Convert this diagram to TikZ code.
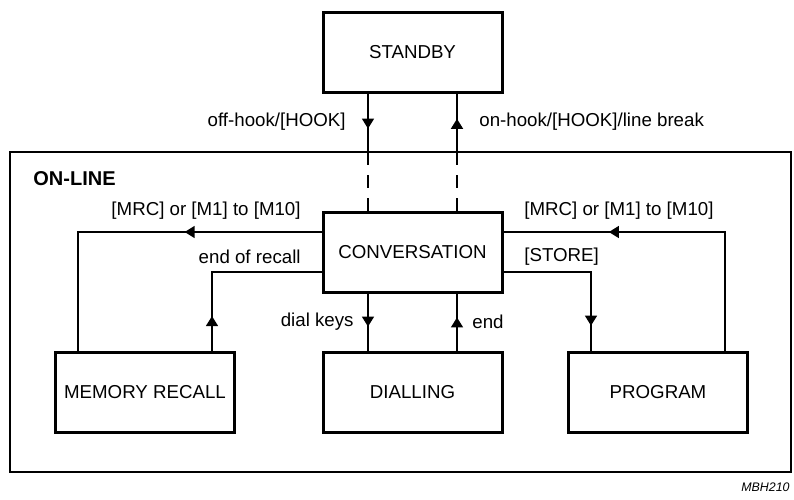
\documentclass[tikz,border=0pt]{standalone}
\usepackage{fontspec}
\setmainfont{Liberation Sans}
\usetikzlibrary{positioning,calc,arrows.meta,decorations.markings}
\tikzset{
	statebox/.style={draw, line width=1.5pt, minimum width=89.5pt, minimum height=40pt, inner sep=0pt},
	link/.style={line width=0.8pt},
	arrowat/.style={postaction={decorate, decoration={markings, mark=at position #1 with {\arrow{Triangle[width=6pt,length=5pt]}}}}},
	lbl/.style={inner sep=0pt}
}
\begin{document}
\begin{tikzpicture}[x=0.5pt, y=-0.5pt, font=\fontsize{9.35}{11}\selectfont]
		\useasboundingbox (0,0) rectangle (794,499);
		\draw[line width=1.3pt] (10,152) rectangle (791,472);
		\node[lbl, anchor=west, font=\fontsize{10}{12}\selectfont\bfseries] (online) at (33,179) {ON-LINE};
		\node[statebox] (sb) at (412.5,52) {STANDBY};
		\node[statebox] (conv) at (412.5,252) {CONVERSATION};
		\node[statebox] (mr) at (145,392) {MEMORY RECALL};
		\node[statebox] (dial) at (412.5,392) {DIALLING};
		\node[statebox] (prog) at (658,392) {PROGRAM};
		\coordinate (offin) at ([xshift=-22.25pt]sb.south |- 0,152);
		\coordinate (onin) at ([xshift=22.25pt]sb.south |- 0,152);
		% standby <-> on-line
		\draw[link, arrowat=0.6] ([xshift=-22.25pt]sb.south) -- (offin);
		\draw[link, dashed, dash pattern=on 6.5pt off 5pt] (offin) -- ([xshift=-22.25pt]conv.north);
		\draw[link, arrowat=0.567] (onin) -- ([xshift=22.25pt]sb.south);
		\draw[link, dashed, dash pattern=on 6.5pt off 5pt] ([xshift=22.25pt]conv.north) -- (onin);
		\node[lbl, anchor=east] (offhook) at (346,122) {off-hook/[HOOK]};
		\node[lbl, anchor=west] (onhook) at (479,122) {on-hook/[HOOK]/line break};
		% memory recall
		\draw[link, arrowat=0.378] ([yshift=10pt]conv.west) -| ([xshift=-33.5pt]mr.north);
		\draw[link, arrowat=0.183] ([xshift=33.5pt]mr.north) |- ([yshift=-10pt]conv.west);
		\node[lbl, anchor=east] (mrcl) at (301,211) {[MRC] or [M1] to [M10]};
		\node[lbl, anchor=east] (eor) at (301,257) {end of recall};
		% dialling
		\draw[link, arrowat=0.58] ([xshift=-22.25pt]conv.south) -- ([xshift=-22.25pt]dial.north);
		\draw[link, arrowat=0.58] ([xshift=22.25pt]dial.north) -- ([xshift=22.25pt]conv.south);
		\node[lbl, anchor=east] (dk) at (354,322) {dial keys};
		\node[lbl, anchor=west] (end) at (472,322) {end};
		% program
		\draw[link, arrowat=0.85] ([yshift=-10pt]conv.east) -| ([xshift=-33.5pt]prog.north);
		\draw[link, arrowat=0.69] ([xshift=33.5pt]prog.north) |- ([yshift=10pt]conv.east);
		\node[lbl, anchor=west] (mrcr) at (524,211) {[MRC] or [M1] to [M10]};
		\node[lbl, anchor=west] (store) at (524,257) {[STORE]};
		\node[lbl, anchor=east, font=\fontsize{6.2}{7}\selectfont\itshape] (ref) at (790,487) {MBH210};
	\end{tikzpicture}
\end{document}
